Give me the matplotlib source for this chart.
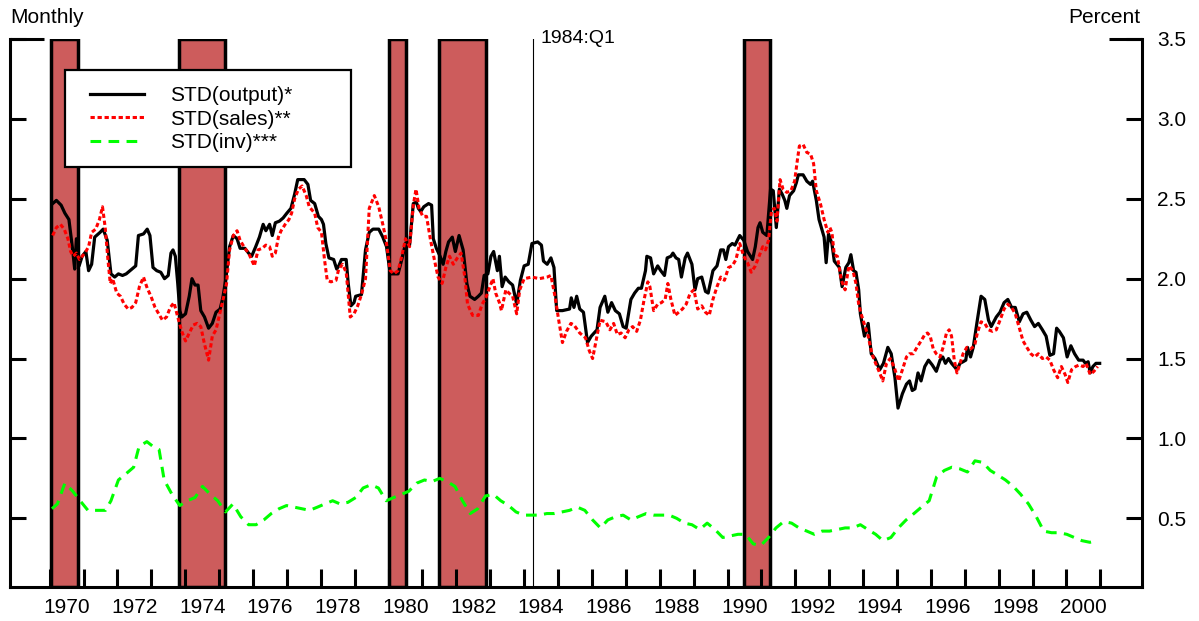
import matplotlib
matplotlib.use("Agg")
import numpy as np
import matplotlib.pyplot as plt
from matplotlib.patches import Rectangle

plt.rcParams['font.family'] = ['Liberation Sans', 'DejaVu Sans']

# ---- data ----
output_t = [1970.09, 1970.20, 1970.34, 1970.45, 1970.57, 1970.68, 1970.74, 1970.79, 1970.87, 1970.96,
            1971.07, 1971.15, 1971.24, 1971.33, 1971.49, 1971.58, 1971.70, 1971.81, 1971.92, 1972.03,
            1972.15, 1972.26, 1972.43, 1972.54, 1972.62, 1972.77, 1972.88, 1972.96, 1973.05, 1973.16,
            1973.28, 1973.39, 1973.50, 1973.58, 1973.64, 1973.71, 1973.78, 1973.84, 1973.90, 1974.01,
            1974.12, 1974.20, 1974.29, 1974.38, 1974.46, 1974.57, 1974.69, 1974.80, 1974.91, 1975.03,
            1975.11, 1975.20, 1975.31, 1975.42, 1975.53, 1975.62, 1975.76, 1975.87, 1975.96, 1976.08,
            1976.19, 1976.30, 1976.38, 1976.49, 1976.57, 1976.66, 1976.78, 1976.89, 1977.00, 1977.12,
            1977.23, 1977.32, 1977.51, 1977.62, 1977.70, 1977.82, 1977.93, 1978.02, 1978.08, 1978.15,
            1978.24, 1978.38, 1978.47, 1978.53, 1978.61, 1978.75, 1978.81, 1978.89, 1978.98, 1979.03,
            1979.20, 1979.32, 1979.43, 1979.54, 1979.71, 1979.83, 1979.94, 1980.05, 1980.28, 1980.39,
            1980.50, 1980.62, 1980.73, 1980.82, 1980.88, 1980.95, 1981.04, 1981.18, 1981.27, 1981.32,
            1981.41, 1981.52, 1981.61, 1981.69, 1981.77, 1981.88, 1981.97, 1982.08, 1982.20, 1982.31,
            1982.40, 1982.54, 1982.65, 1982.74, 1982.82, 1982.93, 1983.02, 1983.10, 1983.21, 1983.27,
            1983.35, 1983.44, 1983.55, 1983.66, 1983.78, 1983.89, 1984.00, 1984.12, 1984.23, 1984.40,
            1984.51, 1984.57, 1984.68, 1984.79, 1984.88, 1984.96, 1985.13, 1985.34, 1985.39, 1985.47,
            1985.55, 1985.64, 1985.75, 1985.87, 1985.98, 1986.15,
            1986.24, 1986.38, 1986.47, 1986.58, 1986.69, 1986.81, 1986.92, 1987.01, 1987.15, 1987.26,
            1987.37, 1987.46, 1987.58, 1987.62, 1987.73, 1987.82, 1987.94, 1988.03, 1988.14, 1988.22,
            1988.33, 1988.39, 1988.48, 1988.56, 1988.64, 1988.75, 1988.82, 1988.95, 1989.04, 1989.12,
            1989.24, 1989.35, 1989.43, 1989.57, 1989.69, 1989.80, 1989.88, 1989.95, 1990.03, 1990.14,
            1990.22, 1990.36, 1990.48, 1990.59, 1990.74, 1990.82, 1990.90, 1990.96, 1991.04, 1991.16,
            1991.27, 1991.35, 1991.44, 1991.53, 1991.61, 1991.69, 1991.75, 1991.83, 1991.95, 1992.03,
            1992.09, 1992.23, 1992.34, 1992.45, 1992.51, 1992.62, 1992.70, 1992.85, 1992.91, 1992.98,
            1993.08, 1993.15, 1993.30, 1993.38, 1993.49, 1993.58, 1993.64, 1993.72, 1993.79, 1993.87,
            1993.92, 1994.04, 1994.15, 1994.24, 1994.35, 1994.49, 1994.60, 1994.73, 1994.83, 1994.94,
            1995.03, 1995.16, 1995.28, 1995.37, 1995.45, 1995.53, 1995.62, 1995.71, 1995.82, 1995.93,
            1996.04, 1996.16, 1996.27, 1996.35, 1996.43, 1996.52, 1996.61, 1996.69, 1996.77, 1996.86,
            1996.95, 1997.03, 1997.08, 1997.17, 1997.25, 1997.37, 1997.48, 1997.59, 1997.70, 1997.78,
            1997.93, 1998.04, 1998.16, 1998.27, 1998.38, 1998.49, 1998.61, 1998.72, 1998.83, 1998.95,
            1999.06, 1999.17, 1999.29, 1999.40, 1999.51, 1999.62, 1999.71, 1999.79, 1999.91, 2000.02,
            2000.13, 2000.24, 2000.36, 2000.49, 2000.56, 2000.64, 2000.70, 2000.78, 2000.87, 2000.98]
output_std = [2.47, 2.49, 2.46, 2.41, 2.37, 2.18, 2.06, 2.25, 2.08, 2.14,
              2.17, 2.05, 2.09, 2.26, 2.29, 2.31, 2.24, 2.03, 2.01, 2.03,
              2.02, 2.03, 2.06, 2.08, 2.27, 2.28, 2.31, 2.27, 2.07, 2.05,
              2.04, 2.00, 2.02, 2.16, 2.18, 2.14, 1.97, 1.80, 1.76, 1.78,
              1.89, 2.00, 1.96, 1.96, 1.80, 1.76, 1.69, 1.72, 1.79, 1.81,
              1.88, 2.00, 2.20, 2.27, 2.25, 2.19, 2.19, 2.16, 2.14, 2.20,
              2.26, 2.34, 2.30, 2.34, 2.27, 2.35, 2.36, 2.38, 2.41, 2.44,
              2.53, 2.62, 2.62, 2.59, 2.49, 2.47, 2.39, 2.37, 2.34, 2.22,
              2.13, 2.12, 2.06, 2.08, 2.12, 2.12, 1.97, 1.83, 1.85, 1.89,
              1.90, 2.18, 2.29, 2.31, 2.31, 2.26, 2.20, 2.03, 2.03, 2.12,
              2.22, 2.21, 2.47, 2.48, 2.44, 2.42, 2.45, 2.47, 2.46, 2.25,
              2.19, 2.14, 2.09, 2.17, 2.23, 2.26, 2.17, 2.27, 2.18, 1.97,
              1.89, 1.87, 1.89, 1.91, 2.02, 2.03, 2.14, 2.17, 2.05, 2.14,
              1.95, 2.01, 1.98, 1.96, 1.84, 1.99, 2.08, 2.09, 2.22, 2.23,
              2.21, 2.11, 2.09, 2.13, 2.07, 1.80, 1.80, 1.81, 1.88, 1.82,
              1.89, 1.81, 1.79, 1.60, 1.64, 1.68,
              1.82, 1.89, 1.79, 1.85, 1.80, 1.78, 1.70, 1.69, 1.87, 1.91,
              1.94, 1.94, 2.05, 2.14, 2.13, 2.03, 2.08, 2.05, 2.02, 2.13,
              2.14, 2.16, 2.13, 2.12, 2.01, 2.13, 2.16, 2.09, 1.93, 2.00,
              2.01, 1.92, 1.91, 2.05, 2.08, 2.18, 2.18, 2.12, 2.20, 2.22,
              2.21, 2.27, 2.24, 2.17, 2.12, 2.20, 2.32, 2.35, 2.29, 2.27,
              2.56, 2.55, 2.32, 2.56, 2.53, 2.49, 2.44, 2.52, 2.55, 2.60,
              2.65, 2.65, 2.61, 2.59, 2.61, 2.49, 2.37, 2.26, 2.10, 2.28,
              2.22, 2.11, 2.07, 1.95, 2.07, 2.10, 2.15, 2.05, 2.04, 1.93,
              1.78, 1.64, 1.72, 1.53, 1.50, 1.43, 1.47, 1.57, 1.53, 1.38,
              1.19, 1.28, 1.34, 1.36, 1.30, 1.31, 1.41, 1.36, 1.45, 1.49,
              1.46, 1.42, 1.49, 1.51, 1.47, 1.50, 1.47, 1.45, 1.43, 1.47,
              1.48, 1.49, 1.57, 1.51, 1.57, 1.74, 1.89, 1.87, 1.74, 1.70,
              1.76, 1.79, 1.85, 1.87, 1.82, 1.82, 1.73, 1.78, 1.79, 1.74,
              1.70, 1.72, 1.68, 1.64, 1.52, 1.53, 1.69, 1.67, 1.63, 1.51,
              1.58, 1.53, 1.49, 1.49, 1.47, 1.48, 1.41, 1.45, 1.47, 1.47]

sales_t = [1970.09, 1970.20, 1970.32, 1970.43, 1970.54, 1970.62, 1970.70, 1970.79, 1970.88, 1970.96,
           1971.04, 1971.15, 1971.24, 1971.36, 1971.47, 1971.56, 1971.64, 1971.72, 1971.79, 1971.86,
           1971.98, 1972.09, 1972.20, 1972.32, 1972.43, 1972.54, 1972.65, 1972.77, 1972.88, 1972.99,
           1973.11, 1973.22, 1973.33, 1973.45, 1973.56, 1973.67, 1973.78, 1973.90, 1974.01, 1974.12,
           1974.24, 1974.35, 1974.46, 1974.57, 1974.69, 1974.80, 1974.91, 1975.03, 1975.14, 1975.22,
           1975.31, 1975.42, 1975.53, 1975.62, 1975.76, 1975.87, 1976.04, 1976.15, 1976.27, 1976.38,
           1976.49, 1976.57, 1976.66, 1976.75, 1976.83, 1976.95, 1977.06, 1977.14, 1977.23, 1977.34,
           1977.45, 1977.57, 1977.66, 1977.74, 1977.82, 1977.91, 1978.02, 1978.11, 1978.19, 1978.30,
           1978.45, 1978.53, 1978.64, 1978.75, 1978.87, 1978.98, 1979.09, 1979.20, 1979.32, 1979.43,
           1979.58, 1979.71, 1979.83, 1979.92, 1980.05, 1980.16, 1980.28, 1980.39, 1980.50, 1980.62,
           1980.73, 1980.81, 1980.90, 1981.01, 1981.12, 1981.24, 1981.35, 1981.46, 1981.58, 1981.69,
           1981.80, 1981.91, 1982.03, 1982.14, 1982.25, 1982.33, 1982.48, 1982.65, 1982.76, 1982.87,
           1982.99, 1983.08, 1983.16, 1983.27, 1983.33, 1983.46, 1983.55, 1983.66, 1983.78, 1983.87,
           1984.00, 1984.23, 1984.45, 1984.68, 1984.79, 1984.91, 1985.02, 1985.13, 1985.25, 1985.38,
           1985.47, 1985.64, 1985.81, 1985.92, 1986.02,
           1986.24, 1986.41, 1986.53, 1986.64, 1986.75, 1986.86, 1986.98, 1987.09, 1987.20, 1987.32,
           1987.43, 1987.54, 1987.65, 1987.71, 1987.82, 1987.94, 1988.05, 1988.16, 1988.24, 1988.33,
           1988.45, 1988.56, 1988.67, 1988.78, 1988.90, 1989.01, 1989.12, 1989.24, 1989.35, 1989.46,
           1989.57, 1989.69, 1989.80, 1989.91, 1990.03, 1990.14, 1990.25, 1990.36, 1990.48, 1990.59,
           1990.70, 1990.82, 1990.93, 1991.04, 1991.12, 1991.21, 1991.30, 1991.38, 1991.46, 1991.55,
           1991.64, 1991.75, 1991.87, 1991.98, 1992.06, 1992.12, 1992.23, 1992.34, 1992.45, 1992.54,
           1992.62, 1992.74, 1992.85, 1992.96, 1993.02, 1993.08, 1993.15, 1993.24, 1993.36, 1993.47,
           1993.58, 1993.70, 1993.79, 1993.87, 1993.94, 1994.03, 1994.15, 1994.26, 1994.37, 1994.49,
           1994.58, 1994.69, 1994.80, 1994.91, 1995.05, 1995.16, 1995.28, 1995.37, 1995.48, 1995.59,
           1995.71, 1995.82, 1995.90, 1995.98, 1996.07, 1996.16, 1996.27, 1996.36, 1996.46, 1996.54,
           1996.61, 1996.69, 1996.77, 1996.86, 1996.95, 1997.06, 1997.17, 1997.29, 1997.37, 1997.48,
           1997.59, 1997.70, 1997.82, 1997.93, 1998.04, 1998.16, 1998.27, 1998.38, 1998.49, 1998.61,
           1998.72, 1998.83, 1998.95, 1999.06, 1999.17, 1999.29, 1999.40, 1999.51, 1999.62, 1999.74,
           1999.85, 1999.96, 2000.04, 2000.15, 2000.27, 2000.38, 2000.49, 2000.58, 2000.70, 2000.81,
           2000.92]
sales_std = [2.27, 2.32, 2.34, 2.31, 2.25, 2.17, 2.14, 2.16, 2.12, 2.14,
             2.16, 2.20, 2.29, 2.31, 2.37, 2.45, 2.32, 2.12, 1.97, 2.00,
             1.91, 1.89, 1.84, 1.81, 1.82, 1.85, 1.95, 2.01, 1.94, 1.89,
             1.82, 1.78, 1.74, 1.76, 1.82, 1.85, 1.76, 1.67, 1.61, 1.66,
             1.71, 1.72, 1.70, 1.59, 1.49, 1.64, 1.68, 1.79, 1.89, 1.97,
             2.18, 2.27, 2.30, 2.24, 2.19, 2.16, 2.08, 2.18, 2.19, 2.21,
             2.20, 2.14, 2.16, 2.26, 2.30, 2.34, 2.37, 2.41, 2.50, 2.56,
             2.58, 2.52, 2.45, 2.43, 2.41, 2.32, 2.29, 2.12, 1.99, 1.98,
             1.99, 2.06, 2.09, 2.04, 1.76, 1.78, 1.83, 1.90, 2.00, 2.44,
             2.52, 2.45, 2.34, 2.25, 2.05, 2.03, 2.05, 2.14, 2.25, 2.20,
             2.46, 2.56, 2.44, 2.39, 2.39, 2.24, 2.12, 2.01, 1.97, 2.07,
             2.14, 2.09, 2.13, 2.16, 2.01, 1.84, 1.77, 1.77, 1.84, 1.88,
             1.95, 2.00, 1.91, 1.85, 1.80, 1.93, 1.91, 1.89, 1.78, 1.93,
             2.00, 2.01, 2.00, 2.01, 2.02, 1.89, 1.74, 1.60, 1.67, 1.72,
             1.71, 1.66, 1.63, 1.55, 1.50,
             1.74, 1.73, 1.68, 1.72, 1.65, 1.66, 1.63, 1.68, 1.70, 1.67,
             1.74, 1.87, 1.98, 1.95, 1.80, 1.84, 1.85, 1.87, 1.97, 1.87,
             1.77, 1.79, 1.81, 1.84, 1.91, 1.93, 1.81, 1.83, 1.79, 1.77,
             1.87, 1.95, 2.01, 1.99, 2.07, 2.08, 2.12, 2.22, 2.14, 2.10,
             2.04, 2.08, 2.14, 2.20, 2.18, 2.24, 2.43, 2.44, 2.36, 2.62,
             2.56, 2.54, 2.55, 2.61, 2.74, 2.83, 2.84, 2.79, 2.78, 2.72,
             2.55, 2.47, 2.37, 2.29, 2.32, 2.29, 2.15, 2.14, 1.99, 1.93,
             2.08, 2.05, 1.97, 1.84, 1.78, 1.72, 1.64, 1.53, 1.47, 1.41,
             1.36, 1.47, 1.50, 1.45, 1.36, 1.43, 1.51, 1.53, 1.53, 1.57,
             1.61, 1.65, 1.66, 1.64, 1.56, 1.53, 1.51, 1.57, 1.66, 1.68,
             1.64, 1.49, 1.41, 1.47, 1.53, 1.57, 1.56, 1.58, 1.66, 1.73,
             1.72, 1.68, 1.67, 1.68, 1.74, 1.81, 1.84, 1.82, 1.78, 1.69,
             1.61, 1.57, 1.53, 1.51, 1.53, 1.50, 1.51, 1.49, 1.43, 1.38,
             1.45, 1.40, 1.35, 1.43, 1.45, 1.46, 1.45, 1.47, 1.40, 1.42,
             1.45]

inv_t = [1970.07, 1970.23, 1970.45, 1970.68, 1970.90, 1971.13, 1971.35, 1971.65, 1971.81, 1972.03,
         1972.26, 1972.48, 1972.64, 1972.87, 1973.05, 1973.23, 1973.38, 1973.61, 1973.84, 1974.06,
         1974.29, 1974.51, 1974.74, 1974.96, 1975.19, 1975.41, 1975.64, 1975.87, 1976.09, 1976.32,
         1976.54, 1976.77, 1976.99, 1977.22, 1977.45, 1977.67, 1977.90, 1978.12, 1978.35, 1978.57,
         1978.80, 1979.03, 1979.25, 1979.48, 1979.70, 1979.93, 1980.15, 1980.38, 1980.60, 1980.83,
         1981.06, 1981.28, 1981.51, 1981.73, 1981.96, 1982.18, 1982.41, 1982.63, 1982.86, 1983.09,
         1983.31, 1983.54, 1983.76, 1983.99, 1984.21, 1984.44, 1984.67, 1984.89, 1985.12, 1985.34,
         1985.57, 1985.79, 1986.02, 1986.25, 1986.47, 1986.70, 1986.92, 1987.15, 1987.37, 1987.60,
         1987.82, 1988.05, 1988.28, 1988.50, 1988.73, 1988.95, 1989.18, 1989.40, 1989.63, 1989.86,
         1990.08, 1990.31, 1990.53, 1990.76, 1990.98, 1991.21, 1991.43, 1991.66, 1991.89, 1992.11,
         1992.34, 1992.56, 1992.79, 1993.01, 1993.24, 1993.47, 1993.69, 1993.92, 1994.14, 1994.37,
         1994.59, 1994.82, 1995.04, 1995.27, 1995.50, 1995.72, 1995.95, 1996.17, 1996.40, 1996.62,
         1996.85, 1997.08, 1997.30, 1997.53, 1997.75, 1997.98, 1998.20, 1998.43, 1998.65, 1998.88,
         1999.11, 1999.33, 1999.56, 1999.78, 2000.01, 2000.23, 2000.46, 2000.69, 2000.91]
inv_std = [0.56, 0.59, 0.72, 0.67, 0.61, 0.55, 0.55, 0.55, 0.61, 0.74,
           0.78, 0.82, 0.95, 0.98, 0.95, 0.93, 0.74, 0.65, 0.58, 0.61,
           0.63, 0.70, 0.65, 0.61, 0.54, 0.59, 0.51, 0.46, 0.46, 0.49,
           0.53, 0.56, 0.58, 0.57, 0.56, 0.55, 0.57, 0.59, 0.61, 0.59,
           0.60, 0.63, 0.69, 0.71, 0.69, 0.61, 0.63, 0.65, 0.67, 0.72,
           0.74, 0.73, 0.75, 0.73, 0.70, 0.61, 0.53, 0.56, 0.64, 0.65,
           0.61, 0.58, 0.54, 0.52, 0.52, 0.52, 0.53, 0.53, 0.54, 0.55,
           0.57, 0.55, 0.49, 0.44, 0.49, 0.51, 0.52, 0.49, 0.51, 0.53,
           0.52, 0.52, 0.52, 0.50, 0.47, 0.46, 0.43, 0.47, 0.43, 0.38,
           0.39, 0.40, 0.40, 0.34, 0.33, 0.38, 0.44, 0.48, 0.47, 0.44,
           0.42, 0.40, 0.42, 0.42, 0.43, 0.44, 0.44, 0.46, 0.43, 0.40,
           0.36, 0.38, 0.44, 0.49, 0.53, 0.57, 0.61, 0.76, 0.80, 0.82,
           0.81, 0.79, 0.86, 0.85, 0.80, 0.77, 0.74, 0.70, 0.65, 0.59,
           0.51, 0.42, 0.41, 0.41, 0.40, 0.38, 0.36, 0.35, 0.36]

recessions = [(1970.05, 1970.85), (1973.83, 1975.17), (1980.0, 1980.5),
              (1981.5, 1982.88), (1990.5, 1991.25)]
break_date = 1984.25
year_labels = list(range(1970, 2001, 2))
y_ticks = [0.5, 1.0, 1.5, 2.0, 2.5, 3.0, 3.5]

# ---- plot ----
fig = plt.figure(figsize=(11.99, 6.21), dpi=100)
ax = fig.add_axes([0.0083, 0.0547, 0.9442, 0.8825])

for start, end in recessions:
    ax.axvspan(start, end, facecolor='indianred', edgecolor='black',
               linewidth=2.5, zorder=1)

ax.axvline(break_date, color='black', linewidth=0.8, zorder=1)
ax.annotate('1984:Q1', xy=(break_date, 1.0), xycoords=('data', 'axes fraction'),
            xytext=(6, 0), textcoords='offset points', va='center', ha='left',
            fontsize=14, annotation_clip=False)

ax.plot(output_t, output_std, color='black', linewidth=2.3, zorder=3,
        label='STD(output)*')
ax.plot(sales_t, sales_std, color='red', linewidth=2.2, dashes=(1.4, 0.9), zorder=4,
        label='STD(sales)**')
ax.plot(inv_t, inv_std, color='#00ff00', linewidth=2.2, dashes=(3.5, 2.4), zorder=4,
        label='STD(inv)***')

ax.set_xlim(1968.83, 2002.23)
ax.set_ylim(0.07, 3.5)

# year ticks inside, labels centred on even years
ax.set_xticks(np.arange(1970, 2002), minor=True)
ax.set_xticks([y + 0.5 for y in year_labels])
ax.set_xticklabels([str(y) for y in year_labels])
ax.tick_params(axis='x', which='major', length=0, pad=8, labelsize=15)
ax.tick_params(axis='x', which='minor', direction='in', length=13, width=2.2)

ax.set_yticks(y_ticks)
ax.set_yticklabels(['%.1f' % v for v in y_ticks])
ax.tick_params(axis='y', which='major', direction='in', length=11.5, width=2.2,
               left=True, right=True, labelleft=False, labelright=True,
               pad=11, labelsize=15)

# longer caps at the top of both vertical axes
ax.plot([0, 0.03], [3.5, 3.5], transform=ax.get_yaxis_transform(),
        color='black', linewidth=2.2, clip_on=False, solid_capstyle='butt', zorder=5)
ax.plot([0.971, 1], [3.5, 3.5], transform=ax.get_yaxis_transform(),
        color='black', linewidth=2.2, clip_on=False, solid_capstyle='butt', zorder=5)

ax.spines['top'].set_visible(False)
for side in ['left', 'right', 'bottom']:
    ax.spines[side].set_linewidth(2.2)

# legend box drawn separately so the padding matches the original
ax.add_patch(Rectangle((0.0486, 0.7664), 0.2527, 0.177, transform=ax.transAxes,
                       facecolor='white', edgecolor='black', linewidth=1.6, zorder=6))
leg = ax.legend(loc='upper left', bbox_to_anchor=(0.0707, 0.9143),
                borderaxespad=0, borderpad=0, fontsize=15, handlelength=2.6,
                handletextpad=1.25, labelspacing=0.22, frameon=False)
leg.set_zorder(7)

fig.text(0.0083, 0.972, 'Monthly', fontsize=15, ha='left', va='center')
fig.text(0.951, 0.972, 'Percent', fontsize=15, ha='right', va='center')

fig.savefig('out.png', dpi=100)
